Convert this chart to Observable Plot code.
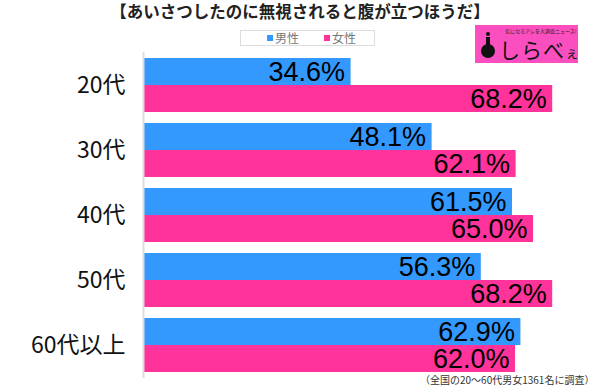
<!DOCTYPE html>
<html>
<head>
<meta charset="utf-8">
<script src="https://cdn.jsdelivr.net/npm/d3@7"></script>
<script src="https://cdn.jsdelivr.net/npm/@observablehq/plot@0.6"></script>
<style>
  body { margin: 0; background: #fff; }
  #wrap { position: relative; width: 600px; height: 387px; overflow: hidden; font-family: "Noto Sans CJK JP", sans-serif; }
  #chart { position: absolute; left: 0; top: 0; }
  .title { position: absolute; left: 0; width: 600px; top: 1px; text-align: center; font-size: 16.5px; font-weight: bold; color: #222; line-height: 20px; }
  .legend { position: absolute; left: 240px; top: 30px; width: 133px; height: 14px; border: 1px solid #ddd; font-size: 12px; color: #777; line-height: 14px; }
  .legend span.sq { display: inline-block; width: 6px; height: 6px; margin-right: 2px; vertical-align: 2px; }
  .logo { position: absolute; left: 475px; top: 25px; width: 103px; height: 38px; background: #fb4fc0; }
  .logo .small { position: absolute; left: 30px; top: 3px; font-size: 5px; color: #222; white-space: nowrap; line-height: 6px; }
  .logo .big { position: absolute; left: 24px; top: 15px; font-size: 21px; font-weight: normal; color: #111; line-height: 19px; white-space: nowrap; letter-spacing: 1px; }
  .logo .big small { font-size: 14px; }
  .logo .icon { position: absolute; left: 6px; top: 19px; width: 14px; height: 14px; border-radius: 50%; background: #111; }
  .logo .icon2 { position: absolute; left: 11px; top: 7px; width: 4px; height: 4px; border-radius: 50%; background: #111; }
  .logo .icon3 { position: absolute; left: 11px; top: 12px; width: 4px; height: 9px; background: #111; }
  .caption { position: absolute; left: 420px; top: 374px; font-size: 10px; color: #333; white-space: nowrap; line-height: 11px; }
</style>
</head>
<body>
<div id="wrap">
  <div id="chart"></div>
  <div class="title">【あいさつしたのに無視されると腹が立つほうだ】</div>
  <div class="legend"><span style="position:absolute;left:26px;top:0"><span class="sq" style="background:#3399ff"></span>男性</span><span style="position:absolute;left:83px;top:0"><span class="sq" style="background:#ff3399"></span>女性</span></div>
  <div class="logo"><div class="small">気になるアレを大調査ニュース!</div><div class="icon2"></div><div class="icon3"></div><div class="icon"></div><div class="big">しらべ<small>ぇ</small></div></div>
  <div class="caption">（全国の20〜60代男女1361名に調査）</div>
</div>
<script>
const ages = ["20代", "30代", "40代", "50代", "60代以上"];
const male = [34.6, 48.1, 61.5, 56.3, 62.9];
const female = [68.2, 62.1, 65.0, 68.2, 62.0];

const maleData = ages.map((a, i) => ({age: a, value: male[i]}));
const femaleData = ages.map((a, i) => ({age: a, value: female[i]}));
const fmt = d => d.value.toFixed(1) + "%";

const plot = Plot.plot({
  width: 600,
  height: 387,
  marginLeft: 143,
  marginRight: 7,
  marginTop: 52,
  marginBottom: 9,
  style: {background: "transparent"},
  x: {domain: [0, 75], axis: null},
  y: {domain: ages, paddingInner: 11/65, paddingOuter: 6/65, label: null, tickSize: 0, tickPadding: 18},
  marks: [
    Plot.barX(maleData, {y: "age", x: "value", fill: "#3399ff", insetBottom: 27, insetTop: 0}),
    Plot.barX(femaleData, {y: "age", x: "value", fill: "#ff3399", insetTop: 27, insetBottom: 0}),
    Plot.ruleX([0], {stroke: "#dddddd", strokeWidth: 2}),
    Plot.text(maleData, {y: "age", x: "value", text: fmt, textAnchor: "end", dx: -6, dy: -13.5, fontSize: 27, fill: "#000", fontFamily: "Liberation Sans, Arial, sans-serif"}),
    Plot.text(femaleData, {y: "age", x: "value", text: fmt, textAnchor: "end", dx: -6, dy: 13.5, fontSize: 27, fill: "#000", fontFamily: "Liberation Sans, Arial, sans-serif"}),
    Plot.axisY({tickSize: 0, tickPadding: 18, fontSize: 23, fill: "#111", label: null, fontFamily: "Noto Sans CJK JP, sans-serif"})
  ]
});
document.getElementById("chart").appendChild(plot);
</script>
</body>
</html>
